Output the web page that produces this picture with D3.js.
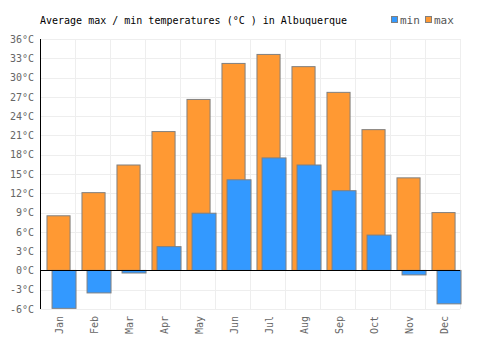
<!DOCTYPE html>
<html><head><meta charset="utf-8">
<script src="https://cdn.jsdelivr.net/npm/d3@7"></script>
<style>
body{margin:0;background:#fff;}
svg{display:block;font-family:"DejaVu Sans Mono",monospace;}
</style></head>
<body><svg id="c" width="500" height="350"></svg>
<script>
const months = ["Jan","Feb","Mar","Apr","May","Jun","Jul","Aug","Sep","Oct","Nov","Dec"];
const maxTemps = [8.5, 12.1, 16.4, 21.6, 26.6, 32.2, 33.6, 31.7, 27.7, 21.9, 14.4, 9.0];
const minTemps = [-5.9, -3.5, -0.4, 3.7, 8.9, 14.1, 17.5, 16.4, 12.4, 5.5, -0.7, -5.2];
const yTicks = [-6,-3,0,3,6,9,12,15,18,21,24,27,30,33,36];
const title = "Average max / min temperatures (°C ) in Albuquerque";
const legendLabels = ["min","max"];

(function(){
const svg = d3.select("#c");
const pLeft = 40, pRight = 460, pTop = 39, pBottom = 309;
const x = d3.scaleBand().domain(months).range([pLeft, pRight]);
const y = d3.scaleLinear().domain([-6, 36]).range([pBottom, pTop]);
const bw = x.bandwidth();
const orange = "#ff9933", blue = "#3399ff", edge = "#808080";

// grid
const g = svg.append("g");
g.selectAll("line.h").data(yTicks).join("line")
  .attr("x1", pLeft).attr("x2", pRight)
  .attr("y1", d => Math.round(y(d)) + 0.5).attr("y2", d => Math.round(y(d)) + 0.5)
  .attr("stroke", "#eeeeee").attr("stroke-width", 1);
g.selectAll("line.v").data(months.map(m => x(m) + bw).concat([pLeft])).join("line")
  .attr("x1", d => Math.round(d) + 0.5).attr("x2", d => Math.round(d) + 0.5)
  .attr("y1", pTop).attr("y2", pBottom)
  .attr("stroke", "#eeeeee").attr("stroke-width", 1);

// y axis labels
const yAxis = d3.axisLeft(y).tickValues(yTicks).tickSize(0).tickPadding(6).tickFormat(d => d + "°C");
const ya = svg.append("g").attr("transform", `translate(${pLeft},0)`).call(yAxis);
ya.select(".domain").remove();
ya.selectAll("text").attr("fill", "#666").attr("font-size", 10)
  .attr("font-family", "DejaVu Sans Mono, monospace");

// x axis labels
const xAxis = d3.axisBottom(x).tickSize(0).tickPadding(0);
const xa = svg.append("g").attr("transform", `translate(0,${pBottom})`).call(xAxis);
xa.select(".domain").remove();
xa.selectAll("text")
  .attr("fill", "#666").attr("font-size", 10)
  .attr("font-family", "DejaVu Sans Mono, monospace")
  .attr("transform", "rotate(-90)")
  .attr("text-anchor", "end")
  .attr("dy", "0.35em")
  .attr("x", -7).attr("y", 2);

// bars
const maxData = months.map((m, i) => ({m, v: maxTemps[i]}));
const minData = months.map((m, i) => ({m, v: minTemps[i]}));
svg.append("g").selectAll("rect").data(maxData).join("rect")
  .attr("x", d => x(d.m) + bw * 0.185 + 0.5)
  .attr("width", bw * 0.66)
  .attr("y", d => y(Math.max(0, d.v)))
  .attr("height", d => Math.abs(y(d.v) - y(0)))
  .attr("fill", orange).attr("stroke", edge).attr("stroke-width", 1);
svg.append("g").selectAll("rect").data(minData).join("rect")
  .attr("x", d => x(d.m) + bw * 0.33 + 0.5)
  .attr("width", bw * 0.685)
  .attr("y", d => y(Math.max(0, d.v)))
  .attr("height", d => Math.abs(y(d.v) - y(0)))
  .attr("fill", blue).attr("stroke", edge).attr("stroke-width", 1);

// zero line and left axis line
svg.append("line").attr("x1", pLeft).attr("x2", pRight)
  .attr("y1", Math.round(y(0)) + 0.5).attr("y2", Math.round(y(0)) + 0.5)
  .attr("stroke", "#000").attr("stroke-width", 1);
svg.append("line").attr("x1", pLeft + 0.5).attr("x2", pLeft + 0.5)
  .attr("y1", pTop).attr("y2", pBottom)
  .attr("stroke", "#000").attr("stroke-width", 1);

// title
svg.append("text").attr("x", 40).attr("y", 24).text(title)
  .attr("font-size", 10).attr("fill", "#000");

// legend
const leg = svg.append("g");
const legColors = [blue, orange];
const legX = [391, 425];
legendLabels.forEach((t, i) => {
  leg.append("rect").attr("x", legX[i] + 0.5).attr("y", 16.5).attr("width", 6).attr("height", 6)
    .attr("fill", legColors[i]).attr("stroke", edge).attr("stroke-width", 1);
  leg.append("text").attr("x", legX[i] + 9).attr("y", 24).text(t)
    .attr("font-size", 11).attr("fill", "#555");
});
})();
</script></body></html>
